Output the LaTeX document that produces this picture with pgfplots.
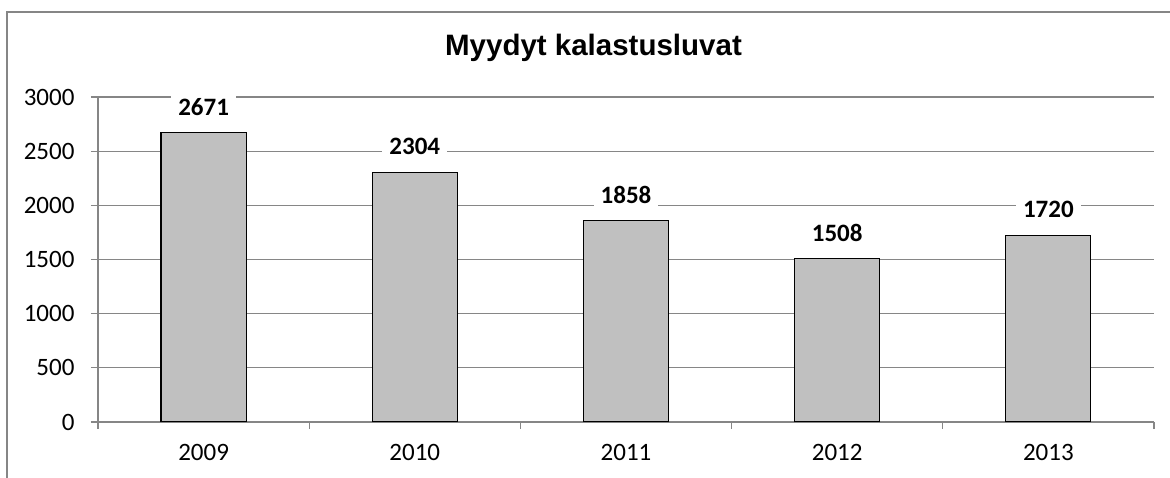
\documentclass[border=0pt]{standalone}
\usepackage{fontspec}
\setmainfont{Carlito}
\newfontfamily\titlefont{Liberation Sans}
\usepackage{pgfplots}
\pgfplotsset{compat=1.18}
\definecolor{axgray}{HTML}{868686}
\definecolor{barfill}{HTML}{C0C0C0}
\begin{document}
\begin{tikzpicture}
\useasboundingbox (0,0) rectangle (1170pt,478pt);
\begin{axis}[
  at={(98pt,56pt)}, anchor=south west,
  scale only axis, width=1056pt, height=325pt,
  xmin=-0.5, xmax=4.5, ymin=0, ymax=3000,
  ytick={0,500,...,3000},
  xtick={0,1,2,3,4},
  xticklabels={2009,2010,2011,2012,2013},
  minor xtick={-0.5,0.5,...,4.5},
  axis x line*=bottom, axis y line*=left,
  axis line style={axgray, line width=1.3pt},
  tick align=outside,
  major tick length=7pt, minor tick length=7pt,
  tick style={axgray, line width=1.3pt},
  major x tick style={draw=none},
  ymajorgrids,
  grid style={axgray, line width=1.3pt},
  /pgf/number format/assume math mode=true,
  /pgf/number format/1000 sep={},
  ticklabel style={font=\fontsize{25}{30}\selectfont, text=black},
  yticklabel style={xshift=-13pt},
  xticklabel style={yshift=-12pt},
  ybar, bar width=85pt,
  nodes near coords,
  every node near coord/.append style={font=\fontsize{25}{30}\selectfont\bfseries, fill=white, inner xsep=7pt, anchor=center, yshift=26pt, text=black},
]
\addplot[fill=barfill, draw=black, line width=1.2pt] coordinates {(0,2671) (1,2304) (2,1858) (3,1508) (4,1720)};
\end{axis}
\draw[axgray, line width=1.5pt] (7pt,0pt) -- (7pt,466pt) -- (1171pt,466pt);
\node[font=\titlefont\bfseries\fontsize{29.5}{35}\selectfont, anchor=base] at (593.5pt,422pt) {Myydyt kalastusluvat};
\end{tikzpicture}
\end{document}
